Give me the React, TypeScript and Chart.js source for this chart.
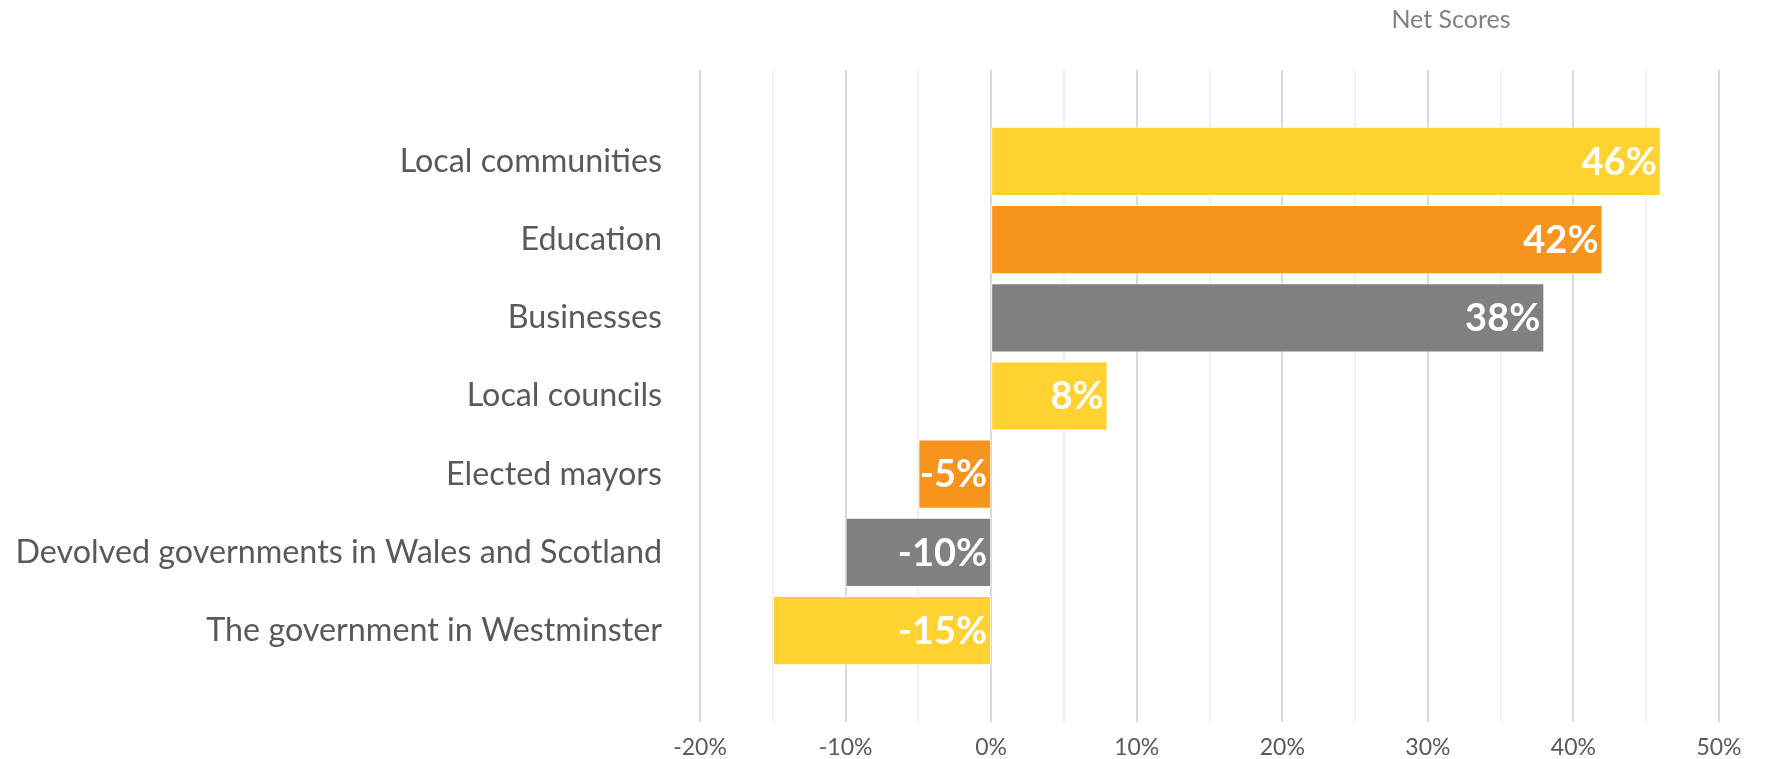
import React, { useEffect, useRef } from 'react';
import { Chart, registerables } from 'chart.js';

Chart.register(...registerables);

// ---- data ----
const categories: string[] = [
  'Local communities',
  'Education',
  'Businesses',
  'Local councils',
  'Elected mayors',
  'Devolved governments in Wales and Scotland',
  'The government in Westminster',
];
const netScores: number[] = [0.46, 0.42, 0.38, 0.08, -0.05, -0.1, -0.15];
const barColors: string[] = ['#FFD232', '#F7941E', '#808080', '#FFD232', '#F7941E', '#808080', '#FFD232'];
const xTickLabels: string[] = ['-20%', '-10%', '0%', '10%', '20%', '30%', '40%', '50%'];
const chartTitle = 'Net Scores';

const FONT = 'Lato, "Open Sans", sans-serif';

const pct = (v: number) => `${Math.round(v * 100)}%`;

const valueLabels = {
  id: 'valueLabels',
  afterDatasetsDraw(chart: any) {
    const ctx = chart.ctx;
    const meta = chart.getDatasetMeta(0);
    ctx.save();
    ctx.font = `bold 38px ${FONT}`;
    ctx.fillStyle = '#ffffff';
    ctx.textAlign = 'right';
    ctx.textBaseline = 'middle';
    meta.data.forEach((bar: any, i: number) => {
      const { x, y, base } = bar.getProps(['x', 'y', 'base'], true);
      const right = Math.max(x, base);
      ctx.fillText(pct(netScores[i]), right - 4, y + 1);
    });
    ctx.restore();
  },
};

const titlePlugin = {
  id: 'offsetTitle',
  afterDraw(chart: any) {
    const ctx = chart.ctx;
    ctx.save();
    ctx.font = `25px ${FONT}`;
    ctx.fillStyle = '#808080';
    ctx.textAlign = 'center';
    ctx.textBaseline = 'alphabetic';
    ctx.fillText(chartTitle, 1451, 28);
    ctx.restore();
  },
};

export default function App() {
  const ref = useRef<HTMLCanvasElement | null>(null);

  useEffect(() => {
    if (!ref.current) return;
    const chart = new Chart(ref.current, {
      type: 'bar',
      data: {
        datasets: [
          {
            data: netScores.map((v, i) => ({ x: v, y: i })),
            backgroundColor: barColors,
            borderColor: 'rgba(255,255,255,0.7)',
            borderWidth: 1,
            borderSkipped: false,
            categoryPercentage: 1,
            barPercentage: 0.885,
          } as any,
        ],
      },
      options: {
        indexAxis: 'y',
        responsive: false,
        animation: false,
        layout: { padding: { top: 70, right: 46, bottom: 0, left: 0 } },
        plugins: {
          legend: { display: false },
          tooltip: { enabled: false },
          title: { display: false },
        },
        scales: {
          x: {
            type: 'linear',
            position: 'bottom',
            min: -0.2,
            max: 0.5,
            ticks: {
              stepSize: 0.05,
              autoSkip: false,
              maxRotation: 0,
              color: '#595959',
              font: { family: FONT, size: 23 },
              padding: 12,
              callback: (v: any) => {
                const k = Math.round(Number(v) * 100);
                if (k % 10 !== 0) return '';
                return xTickLabels[(k + 20) / 10] ?? '';
              },
            },
            grid: {
              color: (c: any) => {
                const k = Math.round((c.tick?.value ?? 0) * 100);
                return k % 10 === 0 ? '#d9d9d9' : '#f0f0f0';
              },
              lineWidth: 2,
              drawTicks: false,
            },
            border: { display: false },
            afterFit: (s: any) => {
              s.height = 37;
              s.paddingLeft = 0;
              s.paddingRight = 0;
            },
          },
          y: {
            type: 'linear',
            reverse: true,
            offset: false,
            min: -1.17,
            max: 7.17,
            afterBuildTicks: (s: any) => {
              s.ticks = categories.map((_, i) => ({ value: i }));
            },
            ticks: {
              autoSkip: false,
              padding: 38,
              color: '#595959',
              font: { family: FONT, size: 32.3 },
              callback: (v: any) => categories[Number(v)] ?? '',
            },
            grid: { display: false, drawTicks: false, offset: false },
            border: { display: false },
            afterFit: (s: any) => {
              s.width = 700;
              s.paddingTop = 0;
              s.paddingBottom = 0;
            },
          },
        },
      } as any,
      plugins: [valueLabels, titlePlugin],
    });
    return () => chart.destroy();
  }, []);

  return (
    <div style={{ position: 'absolute', left: 0, top: 0, width: 1765, height: 759, background: '#ffffff' }}>
      <canvas ref={ref} width={1765} height={759} style={{ width: 1765, height: 759, display: 'block' }} />
    </div>
  );
}
